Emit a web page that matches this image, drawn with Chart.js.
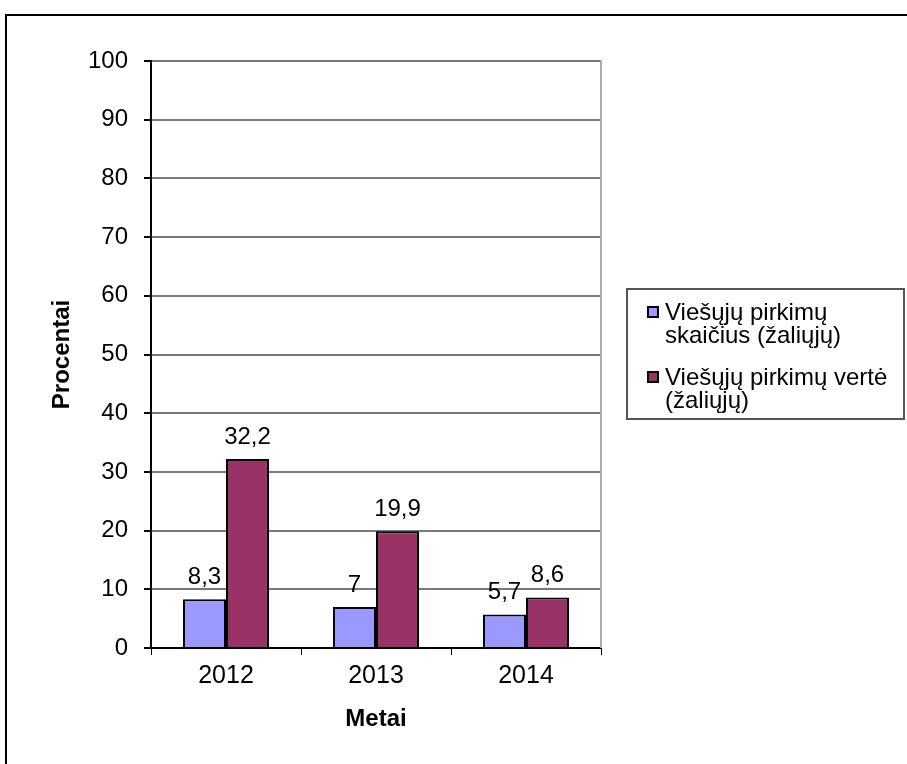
<!DOCTYPE html>
<html lang="lt">
<head>
<meta charset="utf-8">
<script src="https://cdn.jsdelivr.net/npm/chart.js@4.4.1/dist/chart.umd.min.js"></script>
<style>
  html, body { margin: 0; padding: 0; background: #fff; overflow: hidden; }
  #frame {
    position: absolute; left: 5px; top: 14px; width: 960px; height: 820px;
    border-left: 2px solid #000; border-top: 2px solid #000;
  }
  #wrap { position: absolute; left: 0; top: 0; width: 907px; height: 764px; }
  #legend {
    position: absolute; left: 626px; top: 288px; width: 279px; height: 132px;
    border: 2px solid #555; box-sizing: border-box;
    font-family: "Liberation Sans", Arial, sans-serif; font-size: 24px; color: #000;
    padding: 10px 0 0 19px;
  }
  .item { display: flex; align-items: flex-start; margin-bottom: 19px; line-height: 23px; }
  .sw { width: 12px; height: 12px; border: 2px solid #000; box-sizing: border-box; margin: 6px 6px 0 0; flex: none; }
</style>
</head>
<body>
<div id="frame"></div>
<div id="wrap"><canvas id="myChart" width="907" height="764"></canvas></div>
<div id="legend"></div>
<script>
const years = ['2012', '2013', '2014'];
const seriesNames = ['Viešųjų pirkimų skaičius (žaliųjų)', 'Viešųjų pirkimų vertė (žaliųjų)'];
const countShare = [8.3, 7, 5.7];
const valueShare = [32.2, 19.9, 8.6];
const yTicks = [0, 10, 20, 30, 40, 50, 60, 70, 80, 90, 100];

const legendLines = [['Viešųjų pirkimų', 'skaičius (žaliųjų)'], ['Viešųjų pirkimų vertė', '(žaliųjų)']];
const colors = ['#9999FF', '#993366'];

const baseFont = '"Liberation Sans", Arial, sans-serif';

// value labels above each bar, comma as decimal mark
const barLabels = {
  id: 'barLabels',
  afterDatasetsDraw(chart) {
    const ctx = chart.ctx;
    ctx.save();
    ctx.font = '24px ' + baseFont;
    ctx.fillStyle = '#000';
    ctx.textAlign = 'center';
    ctx.textBaseline = 'middle';
    chart.data.datasets.forEach((ds, i) => {
      chart.getDatasetMeta(i).data.forEach((bar, j) => {
        const txt = String(ds.data[j]).replace('.', ',');
        ctx.fillText(txt, bar.x, bar.y - 22);
      });
    });
    ctx.restore();
  }
};

// light frame line on the right side of the plot
const rightEdge = {
  id: 'rightEdge',
  afterDraw(c) {
    const a = c.chartArea, g = c.ctx;
    g.save();
    g.strokeStyle = '#aaa';
    g.lineWidth = 2;
    g.beginPath();
    g.moveTo(a.right, a.top);
    g.lineTo(a.right, a.bottom);
    g.stroke();
    g.restore();
  }
};

Chart.defaults.font.family = baseFont;
Chart.defaults.color = '#000';

const ctx = document.getElementById('myChart').getContext('2d');
const chart = new Chart(ctx, {
  type: 'bar',
  data: {
    labels: years,
    datasets: [
      { label: seriesNames[0], data: countShare, backgroundColor: colors[0], borderColor: '#000', borderWidth: 2 },
      { label: seriesNames[1], data: valueShare, backgroundColor: colors[1], borderColor: '#000', borderWidth: 2 }
    ]
  },
  options: {
    responsive: false,
    animation: false,
    layout: { padding: { left: 28, top: 61, right: 306, bottom: 28 } },
    datasets: { bar: { categoryPercentage: 0.573, barPercentage: 1 } },
    plugins: { legend: { display: false }, tooltip: { enabled: false } },
    scales: {
      x: {
        offset: true,
        grid: { display: true, offset: true, drawOnChartArea: false, drawTicks: true, tickLength: 7, color: '#000', lineWidth: 1 },
        border: { color: '#000', width: 2 },
        ticks: { font: { size: 25 }, padding: 6 },
        title: { display: true, text: 'Metai', font: { size: 24, weight: 'bold' }, padding: { top: 2, bottom: 2 } },
        afterFit(axis) { axis.height = 88; }
      },
      y: {
        min: 0, max: 100,
        afterBuildTicks(axis) { axis.ticks = yTicks.map(v => ({ value: v })); },
        grid: { color: '#7a7a7a', lineWidth: 2, tickColor: '#000', tickLength: 7 },
        border: { color: '#000', width: 2 },
        ticks: { font: { size: 24 }, padding: 16 },
        title: { display: true, text: 'Procentai', font: { size: 24, weight: 'bold' }, padding: { top: 20, bottom: 0 } },
        afterFit(axis) { axis.width = 123; }
      }
    }
  },
  plugins: [barLabels, rightEdge]
});

// legend with wrapped lines, built from the series
const legend = document.getElementById('legend');
legendLines.forEach((lines, i) => {
  const item = document.createElement('div');
  item.className = 'item';
  const sw = document.createElement('div');
  sw.className = 'sw';
  sw.style.background = colors[i];
  const txt = document.createElement('div');
  txt.innerHTML = lines.join('<br>');
  txt.title = seriesNames[i];
  item.appendChild(sw);
  item.appendChild(txt);
  legend.appendChild(item);
});
</script>
</body>
</html>
